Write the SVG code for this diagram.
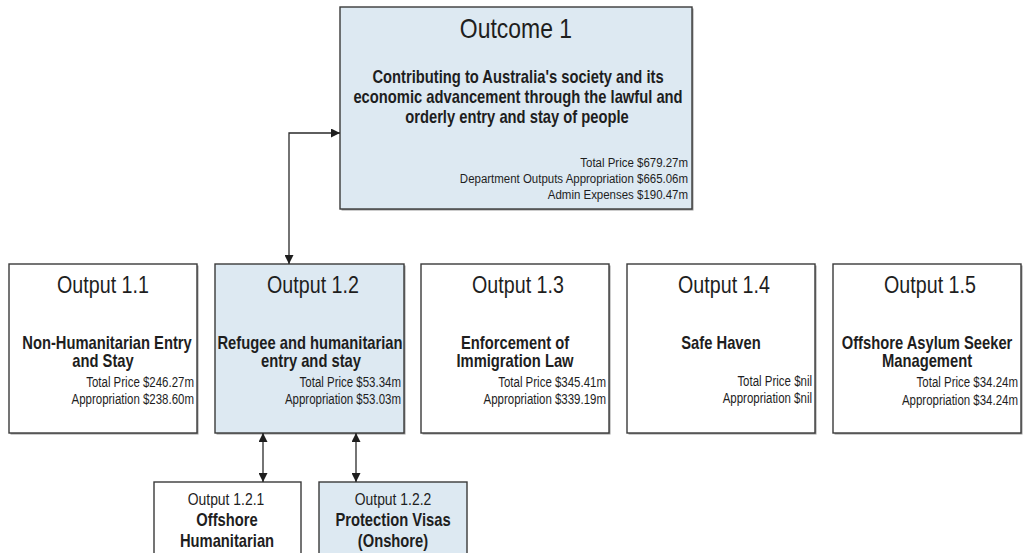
<svg xmlns="http://www.w3.org/2000/svg" width="1026" height="553" viewBox="0 0 1026 553">
<style>
text { font-family: "Liberation Sans", Arial, sans-serif; fill: #1e1e1e; }
.t { font-size: 24px; text-anchor: middle; }
.ot { font-size: 28px; text-anchor: middle; }
.st { font-size: 17px; text-anchor: middle; }
.b { font-size: 18px; font-weight: bold; text-anchor: middle; }
.s { font-size: 14px; text-anchor: end; }
.so { font-size: 13.5px; text-anchor: end; }
.box { stroke: #3a3a3a; stroke-width: 1.4; }
.w { fill: #ffffff; }
.blue { fill: #dde9f2; }
.shadow { fill: #9a9a9a; }
.conn { fill: none; stroke: #2a2a2a; stroke-width: 1.3; }
</style>
<defs>
<marker id="ah" viewBox="0 0 10 10" refX="10" refY="5" markerWidth="9" markerHeight="9" markerUnits="userSpaceOnUse" orient="auto-start-reverse">
<path d="M0,0 L10,5 L0,10 z" fill="#1e1e1e"/>
</marker>
</defs>
<rect width="1026" height="553" fill="#ffffff"/>

<g id="outcome1">
<rect class="shadow" x="341.5" y="8.5" width="352" height="202"/>
<rect class="box blue" x="340" y="7" width="352" height="202"/>
<text class="ot" transform="translate(516 38) scale(0.82 1)">Outcome 1</text>
<text class="b" transform="translate(518 83) scale(0.82 1)">Contributing to Australia's society and its</text>
<text class="b" transform="translate(518 103) scale(0.82 1)">economic advancement through the lawful and</text>
<text class="b" transform="translate(517 123) scale(0.82 1)">orderly entry and stay of people</text>
<text class="so" transform="translate(688 167) scale(0.85 1)">Total Price $679.27m</text>
<text class="so" transform="translate(688 183) scale(0.85 1)">Department Outputs Appropriation $665.06m</text>
<text class="so" transform="translate(688 199) scale(0.85 1)">Admin Expenses $190.47m</text>
</g>

<g id="output1_1">
<rect class="shadow" x="10.5" y="265.5" width="188" height="169"/>
<rect class="box w" x="9" y="264" width="188" height="169"/>
<text class="t" transform="translate(103 293) scale(0.82 1)">Output 1.1</text>
<text class="b" transform="translate(107 349) scale(0.82 1)">Non-Humanitarian Entry</text>
<text class="b" transform="translate(103 367) scale(0.82 1)">and Stay</text>
<text class="s" transform="translate(194 387) scale(0.82 1)">Total Price $246.27m</text>
<text class="s" transform="translate(194 404) scale(0.82 1)">Appropriation $238.60m</text>
</g>

<g id="output1_2">
<rect class="shadow" x="216.5" y="265.5" width="189" height="169"/>
<rect class="box blue" x="215" y="264" width="189" height="169"/>
<text class="t" transform="translate(313 293) scale(0.82 1)">Output 1.2</text>
<text class="b" transform="translate(310 349) scale(0.82 1)">Refugee and humanitarian</text>
<text class="b" transform="translate(311 367) scale(0.82 1)">entry and stay</text>
<text class="s" transform="translate(401 387) scale(0.82 1)">Total Price $53.34m</text>
<text class="s" transform="translate(401 404) scale(0.82 1)">Appropriation $53.03m</text>
</g>

<g id="output1_3">
<rect class="shadow" x="422.5" y="265.5" width="188" height="169"/>
<rect class="box w" x="421" y="264" width="188" height="169"/>
<text class="t" transform="translate(518 293) scale(0.82 1)">Output 1.3</text>
<text class="b" transform="translate(515 349) scale(0.82 1)">Enforcement of</text>
<text class="b" transform="translate(515 367) scale(0.82 1)">Immigration Law</text>
<text class="s" transform="translate(606 387) scale(0.82 1)">Total Price $345.41m</text>
<text class="s" transform="translate(606 404) scale(0.82 1)">Appropriation $339.19m</text>
</g>

<g id="output1_4">
<rect class="shadow" x="628.5" y="265.5" width="188" height="169"/>
<rect class="box w" x="627" y="264" width="188" height="169"/>
<text class="t" transform="translate(724 293) scale(0.82 1)">Output 1.4</text>
<text class="b" transform="translate(721 349) scale(0.82 1)">Safe Haven</text>
<text class="s" transform="translate(812 386) scale(0.82 1)">Total Price $nil</text>
<text class="s" transform="translate(812 403) scale(0.82 1)">Appropriation $nil</text>
</g>

<g id="output1_5">
<rect class="shadow" x="834.5" y="265.5" width="188" height="169"/>
<rect class="box w" x="833" y="264" width="188" height="169"/>
<text class="t" transform="translate(930 293) scale(0.82 1)">Output 1.5</text>
<text class="b" transform="translate(927 349) scale(0.82 1)">Offshore Asylum Seeker</text>
<text class="b" transform="translate(927 367) scale(0.82 1)">Management</text>
<text class="s" transform="translate(1018 387) scale(0.82 1)">Total Price $34.24m</text>
<text class="s" transform="translate(1018 405) scale(0.82 1)">Appropriation $34.24m</text>
</g>

<g id="output1_2_1">
<rect class="box w" x="154" y="482" width="147" height="80"/>
<text class="st" transform="translate(226 505) scale(0.82 1)">Output 1.2.1</text>
<text class="b" transform="translate(227 526) scale(0.82 1)">Offshore</text>
<text class="b" transform="translate(227 547) scale(0.82 1)">Humanitarian</text>
</g>

<g id="output1_2_2">
<rect class="box blue" x="319" y="482" width="148" height="80"/>
<text class="st" transform="translate(393 505) scale(0.82 1)">Output 1.2.2</text>
<text class="b" transform="translate(393 526) scale(0.82 1)">Protection Visas</text>
<text class="b" transform="translate(393 547) scale(0.82 1)">(Onshore)</text>
</g>

<g id="connectors">
<path class="conn" d="M340,133 H289 V264" marker-start="url(#ah)" marker-end="url(#ah)"/>
<path class="conn" d="M263,433 V482" marker-start="url(#ah)" marker-end="url(#ah)"/>
<path class="conn" d="M356,433 V482" marker-start="url(#ah)" marker-end="url(#ah)"/>
</g>
</svg>
